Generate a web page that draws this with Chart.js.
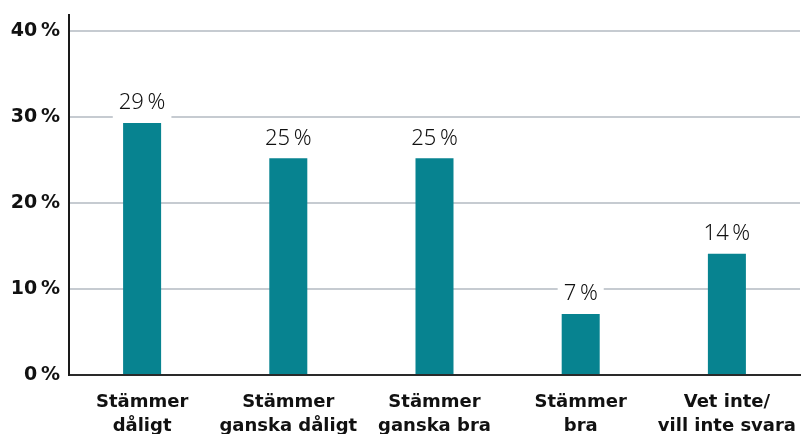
<!DOCTYPE html>
<html>
<head>
<meta charset="utf-8">
<script src="https://cdn.jsdelivr.net/npm/chart.js@4"></script>
<style>
  html, body { margin: 0; padding: 0; background: #fff; }
  #wrap { width: 801px; height: 434px; }
</style>
</head>
<body>
<div id="wrap"><canvas id="myChart" width="801" height="434"></canvas></div>
<script>
// kategorier och andelar (procent)
var categories = [
  ["Stämmer", "dåligt"],
  ["Stämmer", "ganska dåligt"],
  ["Stämmer", "ganska bra"],
  ["Stämmer", "bra"],
  ["Vet inte/", "vill inte svara"]
];
var values = [29.3, 25.2, 25.2, 7.1, 14.1];
var valueLabels = ["29\u2009%", "25\u2009%", "25\u2009%", "7\u2009%", "14\u2009%"];
var yTicks = [0, 10, 20, 30, 40];

var fam = "'Noto Sans', sans-serif";
var boldFam = "'DejaVu Sans', sans-serif";

// etiketter ovanför staplarna med vit bakgrund
var valueLabelPlugin = {
  id: 'valueLabels',
  afterDatasetsDraw: function(chart) {
    var ctx = chart.ctx;
    var meta = chart.getDatasetMeta(0);
    ctx.save();
    ctx.font = "300 22px " + fam;
    ctx.textAlign = "center";
    ctx.textBaseline = "middle";
    meta.data.forEach(function(bar, i) {
      var txt = valueLabels[i];
      var w = ctx.measureText(txt).width;
      var cy = bar.y - 20;
      ctx.fillStyle = "#fff";
      ctx.fillRect(bar.x - w / 2 - 6, cy - 14, w + 12, 31);
      ctx.fillStyle = "#111";
      ctx.fillText(txt, bar.x, cy);
    });
    ctx.restore();
  }
};

var ctx = document.getElementById("myChart").getContext("2d");
window.chart = new Chart(ctx, {
  type: 'bar',
  data: {
    labels: categories,
    datasets: [{
      data: values,
      backgroundColor: '#078390',
      barPercentage: 0.26,
      categoryPercentage: 1
    }]
  },
  options: {
    responsive: false,
    animation: false,
    layout: { padding: { top: 15, right: 1, left: 0, bottom: 0 } },
    plugins: { legend: { display: false }, tooltip: { enabled: false } },
    scales: {
      x: {
        grid: { display: false },
        border: { color: '#2a2a2a', width: 2 },
        ticks: {
          color: '#111',
          font: { family: boldFam, size: 18, weight: 'bold', lineHeight: 1.3 },
          padding: 8,
          maxRotation: 0,
          autoSkip: false
        },
        afterFit: function(s) { s.height = 59; s.paddingLeft = 0; s.paddingRight = 0; }
      },
      y: {
        min: 0,
        max: 41.86,
        afterBuildTicks: function(s) {
          s.ticks = yTicks.map(function(v) { return { value: v }; });
        },
        grid: { color: '#c6cbd1', lineWidth: 2, drawTicks: false },
        border: { color: '#1a1a1a', width: 2 },
        ticks: {
          color: '#111',
          padding: 9,
          font: { family: boldFam, size: 19, weight: 'bold' },
          callback: function(v) { return v + "\u2009%"; }
        },
        afterFit: function(s) { s.width = 69; s.paddingTop = 0; s.paddingBottom = 0; }
      }
    }
  },
  plugins: [valueLabelPlugin]
});
</script>
</body>
</html>
